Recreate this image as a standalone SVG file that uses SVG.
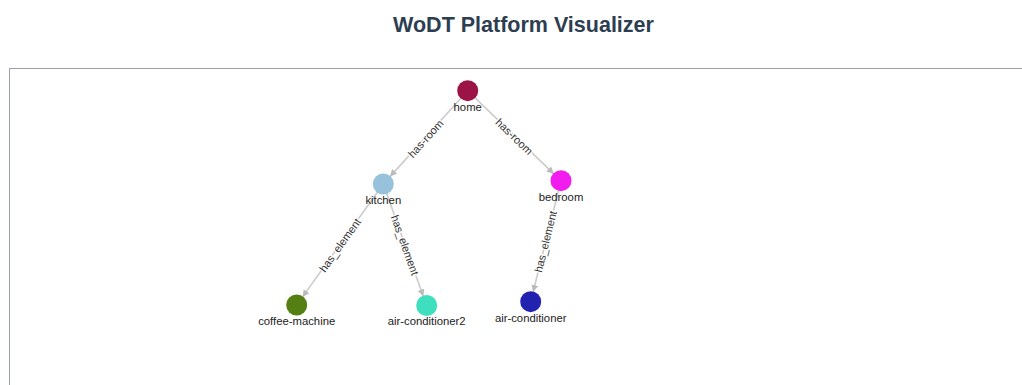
<svg xmlns="http://www.w3.org/2000/svg" width="1022" height="385" viewBox="0 0 1022 385">
  <style>
    .title { font-family: "Liberation Sans", Arial, sans-serif; font-size: 21.5px; font-weight: bold; fill: #2c3e50; text-anchor: middle; }
    .frame { fill: #ffffff; stroke: #9aa0a6; stroke-width: 1; }
    .link { stroke: #cccccc; stroke-width: 1.6; fill: none; marker-end: url(#arrow); }
    .link-label { font-family: "Liberation Sans", Arial, sans-serif; font-size: 11px; fill: #333333; text-anchor: middle; dominant-baseline: central; stroke: #ffffff; stroke-width: 2.5; paint-order: stroke; }
    .node-label { font-family: "Liberation Sans", Arial, sans-serif; font-size: 11.3px; fill: #222222; text-anchor: middle; }
  </style>
  <defs>
    <marker id="arrow" viewBox="0 -5 10 10" refX="10" refY="0" markerWidth="7" markerHeight="7" markerUnits="userSpaceOnUse" orient="auto">
      <path d="M0,-5L10,0L0,5Z" fill="#bbbbbb"/>
    </marker>
  </defs>

  <rect width="1022" height="385" fill="#ffffff"/>
  <text class="title" x="523.5" y="32">WoDT Platform Visualizer</text>
  <rect class="frame" x="9.5" y="68.5" width="1030" height="340"/>

  <g id="links">
    <!-- lines stop at the target circle edge (r = 10) -->
    <line class="link" x1="467.7" y1="90.7" x2="390.0" y2="176.6"/>
    <line class="link" x1="467.7" y1="90.7" x2="553.8" y2="173.8"/>
    <line class="link" x1="383.3" y1="184" x2="302.5" y2="296.9"/>
    <line class="link" x1="383.3" y1="184" x2="423.3" y2="296.3"/>
    <line class="link" x1="561" y1="180.7" x2="533.1" y2="292.0"/>

    <text class="link-label" transform="translate(425.5,138.5) rotate(-48)">has-room</text>
    <text class="link-label" transform="translate(514.3,136.5) rotate(44)">has-room</text>
    <text class="link-label" transform="translate(340,245) rotate(-54.4)">has_element</text>
    <text class="link-label" transform="translate(405,245) rotate(70.4)">has_element</text>
    <text class="link-label" transform="translate(545.5,241.5) rotate(-76)">has_element</text>
  </g>

  <g id="home">
    <circle cx="467.7" cy="90.7" r="10.5" fill="#9c1446"/>
    <text class="node-label" x="467.7" y="110.8">home</text>
  </g>
  <g id="kitchen">
    <circle cx="383.3" cy="184" r="10.5" fill="#98c1dc"/>
    <text class="node-label" x="383.3" y="204">kitchen</text>
  </g>
  <g id="bedroom">
    <circle cx="561" cy="180.7" r="10.5" fill="#f21cef"/>
    <text class="node-label" x="561" y="200.5">bedroom</text>
  </g>
  <g id="coffee-machine">
    <circle cx="296.7" cy="305" r="10.5" fill="#547f12"/>
    <text class="node-label" x="296.7" y="325">coffee-machine</text>
  </g>
  <g id="air-conditioner2">
    <circle cx="426.7" cy="305.5" r="10.5" fill="#3ddfbf"/>
    <text class="node-label" x="426.7" y="325">air-conditioner2</text>
  </g>
  <g id="air-conditioner">
    <circle cx="530.7" cy="301.7" r="10.5" fill="#2222b0"/>
    <text class="node-label" x="530.7" y="321.5">air-conditioner</text>
  </g>
</svg>
